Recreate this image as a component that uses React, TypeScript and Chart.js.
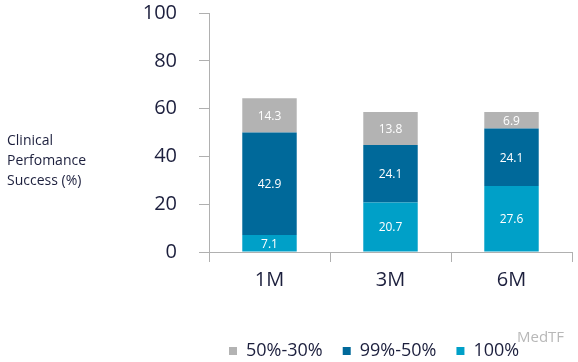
import React, { useEffect, useRef } from "react";
import { Chart, registerables } from "chart.js";

Chart.register(...registerables);

const categories = ["1M", "3M", "6M"];
const full100 = [7.1, 20.7, 27.6];
const mid99to50 = [42.9, 24.1, 24.1];
const low50to30 = [14.3, 13.8, 6.9];
const yTitleLines = ["Clinical", "Perfomance", "Success (%)"];
const seriesNames = ["100%", "99%-50%", "50%-30%"];
const seriesColors = ["#00a0c8", "#00699a", "#b3b3b3"];

const FONT = "'Open Sans', sans-serif";
const TEXT = "#1c1f3d";

const labelPlugin = {
  id: "barLabels",
  afterDatasetsDraw(chart: any) {
    const ctx = chart.ctx;
    ctx.save();
    ctx.fillStyle = "#ffffff";
    ctx.font = `12px ${FONT}`;
    ctx.textAlign = "center";
    ctx.textBaseline = "middle";
    chart.data.datasets.forEach((ds: any, di: number) => {
      const meta = chart.getDatasetMeta(di);
      meta.data.forEach((bar: any, i: number) => {
        const v = ds.data[i];
        const y = (bar.y + bar.base) / 2;
        ctx.fillText(v.toFixed(1), bar.x, y + 1);
      });
    });
    ctx.restore();
  },
  afterDraw(chart: any) {
    const ctx = chart.ctx;
    ctx.save();
    ctx.fillStyle = TEXT;
    ctx.font = `14px ${FONT}`;
    ctx.textAlign = "left";
    ctx.textBaseline = "middle";
    yTitleLines.forEach((t, i) => ctx.fillText(t, 7, 141 + i * 20));
    ctx.fillStyle = "#b8b8b8";
    ctx.font = `15px ${FONT}`;
    ctx.fillText("MedTF", 517, 338);
    ctx.restore();
  },
};

export default function App() {
  const ref = useRef<HTMLCanvasElement | null>(null);
  useEffect(() => {
    if (!ref.current) return;
    const datasets = [full100, mid99to50, low50to30].map((d, i) => ({
      label: seriesNames[i],
      data: d,
      backgroundColor: seriesColors[i],
      borderWidth: 0,
      categoryPercentage: 0.9,
      barPercentage: 0.5,
    }));
    const chart = new Chart(ref.current, {
      type: "bar",
      data: { labels: categories, datasets },
      plugins: [labelPlugin],
      options: {
        animation: false,
        responsive: true,
        maintainAspectRatio: false,
        layout: { padding: { top: 13, right: 6, left: 0, bottom: -8 } },
        plugins: {
          tooltip: { enabled: false },
          legend: {
            position: "bottom",
            align: "start",
            fullSize: false,
            reverse: true,
            labels: {
              boxWidth: 8,
              boxHeight: 8,
              padding: 20,
              color: TEXT,
              font: { family: FONT, size: 18 },
            },
          },
        },
        scales: {
          x: {
            stacked: true,
            afterFit(scale: any) {
              scale.height = 70;
            },
            grid: {
              drawOnChartArea: false,
              tickLength: 10,
              color: (c: any) => (c.index === 3 ? "rgba(0,0,0,0)" : "#b0b0b0"),
            },
            border: { color: "#b0b0b0", width: 1 },
            ticks: { color: TEXT, font: { family: FONT, size: 20 }, padding: 6 },
          },
          y: {
            stacked: true,
            min: 0,
            max: 100,
            afterFit(scale: any) {
              scale.width = 209;
              scale.paddingTop = 0;
              scale.paddingBottom = 0;
            },
            grid: { drawOnChartArea: false, tickLength: 10, color: "#b0b0b0" },
            border: { color: "#b0b0b0", width: 1 },
            ticks: {
              stepSize: 20,
              color: TEXT,
              font: { family: FONT, size: 20 },
              padding: 22,
            },
          },
        },
      },
    });
    return () => chart.destroy();
  }, []);
  return (
    <div style={{ position: "absolute", left: 0, top: 0, width: 578, height: 362, background: "#fff" }}>
      <canvas ref={ref} />
    </div>
  );
}
